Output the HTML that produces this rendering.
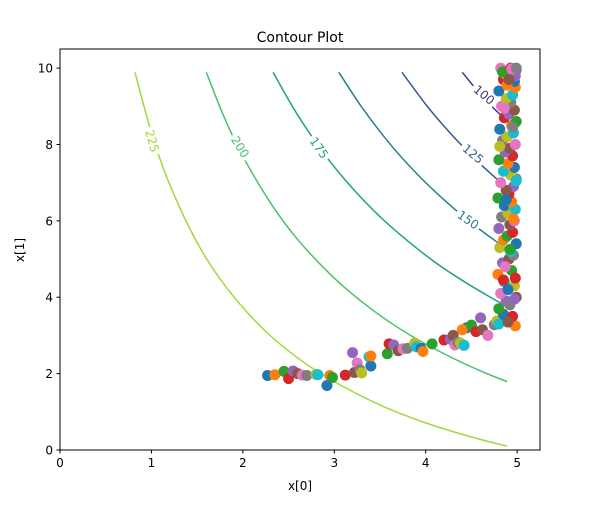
<!DOCTYPE html>
<html><head><meta charset="utf-8"><style>
body{margin:0;background:#fff}
svg text{font-family:"DejaVu Sans","Liberation Sans",sans-serif}
</style></head><body>
<svg id="chart" width="600" height="500" viewBox="0 0 600 500">
<rect width="600" height="500" fill="#fff"/>
<g id="marks"></g>
<rect x="60" y="49" width="480" height="401" fill="none" stroke="#000" stroke-width="1"/>
<g id="axes"></g>
<text x="300" y="42" font-size="14" text-anchor="middle">Contour Plot</text>
<text x="300" y="490" font-size="12" text-anchor="middle">x[0]</text>
<text x="24" y="250" font-size="12" text-anchor="middle" transform="rotate(-90 24 250)">x[1]</text>
</svg>
<script>
const xTicks=[0,1,2,3,4,5];
const yTicks=[0,2,4,6,8,10];
const levels=[100,125,150,175,200,225];
const levelColors=["#46337e","#365c8d","#277f8e","#1fa187","#4ac16d","#a0da39"];
const c100x=[4.40,4.55,4.70,4.87], c100y=[9.89,9.45,9.05,8.66];
const c125x=[3.74,4.0,4.2,4.4,4.6,4.87], c125y=[9.89,9.05,8.48,7.96,7.48,6.90];
const c150x=[3.05,3.3,3.6,3.9,4.2,4.5,4.8], c150y=[9.89,8.98,8.04,7.24,6.55,5.94,5.41];
const c175x=[2.33,2.6,2.9,3.2,3.5,3.8,4.1,4.4,4.7,4.85], c175y=[9.89,8.77,7.72,6.85,6.11,5.48,4.92,4.44,4.01,3.81];
const c200x=[1.6,1.8,2.0,2.3,2.6,3.0,3.4,3.8,4.2,4.6,4.89], c200y=[9.89,8.69,7.69,6.48,5.51,4.50,3.70,3.05,2.52,2.07,1.79];
const c225x=[0.82,1.0,1.2,1.5,1.8,2.2,2.6,3.0,3.5,4.0,4.5,4.89], c225y=[9.89,8.31,6.95,5.43,4.32,3.22,2.41,1.79,1.18,0.71,0.34,0.10];
const ptX=[2.27,2.35,2.45,2.5,2.55,2.6,2.65,2.7,2.8,2.82,2.92,2.95,2.98,3.12,3.2,3.22,3.25,3.28,3.3,3.38,3.4,3.4,3.58,3.6,3.65,3.7,3.75,3.8,3.88,3.9,3.95,3.97,4.07,4.2,4.27,4.3,4.32,4.35,4.38,4.42,4.45,4.4,4.5,4.55,4.6,4.62,4.68,4.75,4.78,4.8,4.85,4.98,
4.80,4.95,4.88,4.99,4.82,4.92,4.97,4.86,4.90,4.79,4.94,4.98,4.84,4.91,4.87,4.96,4.81,4.93,4.99,4.85,4.89,4.95,4.80,4.92,4.97,4.83,4.90,4.98,4.86,4.94,4.79,4.91,4.96,4.88,4.82,4.99,4.93,4.85,4.97,4.90,4.80,4.95,4.87,4.92,4.98,4.84,4.89,4.96,4.81,4.94,4.99,4.86,4.91,4.97,4.83,4.93,4.88,4.95,4.80,4.98,4.90,4.85,4.96,4.92,4.82,4.99,4.87,4.94,4.97,4.89,4.84,4.93,4.98,4.91,4.86,4.95,4.81,4.99,4.88,4.96,4.92,4.85,4.97,4.90,4.94,4.99];
const ptY=[1.95,1.97,2.06,1.87,2.07,2.0,1.96,1.95,1.98,1.97,1.69,1.95,1.9,1.96,2.55,2.03,2.28,2.1,2.02,2.44,2.2,2.46,2.52,2.78,2.75,2.6,2.65,2.66,2.8,2.7,2.66,2.58,2.78,2.88,2.9,3.0,2.75,2.82,2.8,2.74,3.2,3.15,3.27,3.1,3.46,3.15,3.0,3.28,3.38,3.3,3.55,3.25,
3.7,3.5,3.9,4.0,4.1,3.8,4.3,4.4,4.2,4.6,4.7,4.5,4.9,5.0,4.8,5.1,5.3,5.2,5.4,5.5,5.6,5.7,5.8,5.9,6.0,6.1,6.2,6.3,6.4,6.5,6.6,6.7,6.9,6.8,7.0,7.1,7.2,7.3,7.4,7.5,7.6,7.7,7.8,7.9,8.0,8.1,8.2,8.3,8.4,8.5,8.6,8.7,8.8,8.9,9.0,9.1,9.2,9.3,9.4,9.5,9.6,9.7,9.8,9.9,10.0,9.95,9.85,9.75,9.65,9.55,9.9,10.0,9.8,9.7,8.95,8.45,7.95,7.05,6.55,6.05,5.25,4.45,3.95,3.35,9.98,10.0,9.92,9.88];
const tab10=["#1f77b4","#ff7f0e","#2ca02c","#d62728","#9467bd","#8c564b","#e377c2","#7f7f7f","#bcbd22","#17becf"];
const labelPos=[[484,95,40],[473,154,40],[468,220,35],[319,148,55],[240,147,58],[152,141,75]];

const X=v=>60+v*(480/5.25), Y=v=>450-v*(401/10.5);
const NS="http://www.w3.org/2000/svg";
const marks=document.getElementById('marks'), axes=document.getElementById('axes');
function mk(tag,attrs,parent){const e=document.createElementNS(NS,tag);for(const k in attrs)e.setAttribute(k,attrs[k]);parent.appendChild(e);return e;}
const curves=[[c100x,c100y],[c125x,c125y],[c150x,c150y],[c175x,c175y],[c200x,c200y],[c225x,c225y]];
function smooth(px,py){let d=`M${px[0]},${py[0]}`;for(let i=0;i<px.length-1;i++){const x0=px[Math.max(0,i-1)],y0=py[Math.max(0,i-1)],x1=px[i],y1=py[i],x2=px[i+1],y2=py[i+1],x3=px[Math.min(px.length-1,i+2)],y3=py[Math.min(px.length-1,i+2)];d+=` C${x1+(x2-x0)/6},${y1+(y2-y0)/6} ${x2-(x3-x1)/6},${y2-(y3-y1)/6} ${x2},${y2}`;}return d;}
curves.forEach((c,i)=>{
  const p=mk('path',{d:smooth(c[0].map(X),c[1].map(Y)),fill:'none',stroke:levelColors[i],'stroke-width':1.5},marks);
  
  
  const [lx,ly,ang]=labelPos[i];
  const r=mk('rect',{x:lx-14,y:ly-8,width:28,height:16,fill:'#fff',transform:`rotate(${ang} ${lx} ${ly})`},marks);
  
  
  const t=mk('text',{x:lx,y:ly+4,'font-size':12,'text-anchor':'middle',fill:levelColors[i],transform:`rotate(${ang} ${lx} ${ly})`},marks);
  t.textContent=levels[i];
  
  
});
ptX.forEach((v,i)=>{
  const c=mk('circle',{cx:X(v),cy:Y(ptY[i]),r:5.5,fill:tab10[i%10]},marks);
  
  
});
xTicks.forEach(v=>{
  const l=mk('line',{x1:X(v),x2:X(v),y1:450,y2:453.5,stroke:'#000'},axes);
  
  
  const t=mk('text',{x:X(v),y:467,'font-size':12,'text-anchor':'middle'},axes);
  t.textContent=v;
  
  
});
yTicks.forEach(v=>{
  const l=mk('line',{x1:56.5,x2:60,y1:Y(v),y2:Y(v),stroke:'#000'},axes);
  
  
  const t=mk('text',{x:53,y:Y(v)+4.5,'font-size':12,'text-anchor':'end'},axes);
  t.textContent=v;
  
  
});
</script>
</body></html>
